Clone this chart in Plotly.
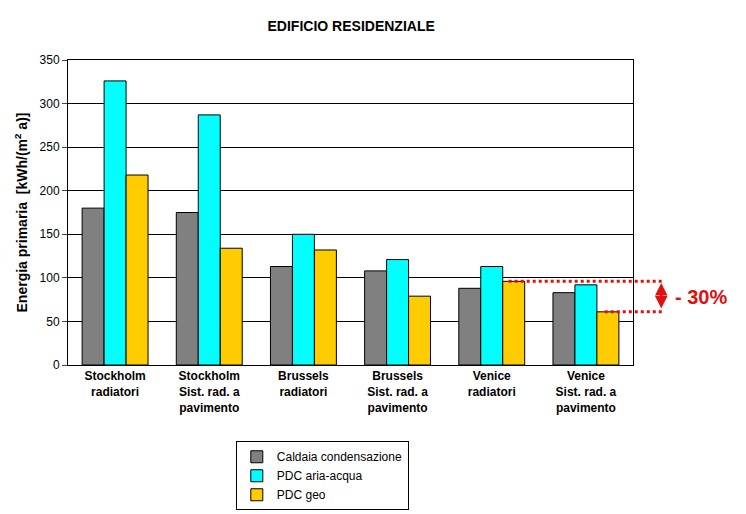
import plotly.graph_objects as go

categories = ["Stockholm<br>radiatori", "Stockholm<br>Sist. rad. a<br>pavimento", "Brussels<br>radiatori",
              "Brussels<br>Sist. rad. a<br>pavimento", "Venice<br>radiatori", "Venice<br>Sist. rad. a<br>pavimento"]
caldaia = [180, 175, 113, 108, 88, 83]
pdc_aria = [326, 287, 150, 121, 113, 92]
pdc_geo = [218, 134, 132, 79, 96, 61]
yticks = [0, 50, 100, 150, 200, 250, 300, 350]

fnt = "Liberation Sans, Arial, sans-serif"
fig = go.Figure()
for name, vals, col in [("Caldaia condensazione", caldaia, "#808080"),
                        ("PDC aria-acqua", pdc_aria, "#00FFFF"),
                        ("PDC geo", pdc_geo, "#FFCC00")]:
    fig.add_bar(x=categories, y=vals, name=name, marker=dict(color=col, line=dict(color="black", width=1)))

fig.update_layout(
    width=746, height=514, plot_bgcolor="white", paper_bgcolor="white",
    margin=dict(l=60, r=121, t=52, b=145),
    barmode="group", bargap=0.3, bargroupgap=0,
    font=dict(family=fnt, color="black", size=12),
    title=dict(text="<b>EDIFICIO RESIDENZIALE</b>", x=0.46, xanchor="center", y=0.975, yanchor="top",
               font=dict(size=14)),
    legend=dict(x=0.297, y=-0.25, xanchor="left", yanchor="top", bordercolor="black", borderwidth=1,
                font=dict(size=12), tracegroupgap=0),
    showlegend=True,
)
fig.update_xaxes(showline=True, linecolor="black", mirror=True, tickfont=dict(size=12, family=fnt),
                 ticks="outside", ticklen=0, tickprefix="<b>", ticksuffix="</b>")
fig.update_yaxes(range=[0, 350], tickvals=yticks, showgrid=True, gridcolor="black", gridwidth=1,
                 showline=True, linecolor="black", mirror=True, ticks="outside", ticklen=5,
                 tickprefix="<b>", ticksuffix="</b>",
                 tickfont=dict(size=12), title=dict(text="<b>Energia primaria  [kWh/(m<sup>2</sup> a)]</b>",
                 font=dict(size=14), standoff=8))

red = "#E01010"
fig.add_shape(type="line", xref="paper", yref="y", x0=0.78, x1=1.053, y0=pdc_geo[4], y1=pdc_geo[4],
              line=dict(color=red, width=3, dash="dot"))
fig.add_shape(type="line", xref="paper", yref="y", x0=0.95, x1=1.053, y0=pdc_geo[5], y1=pdc_geo[5],
              line=dict(color=red, width=3, dash="dot"))
fig.add_annotation(xref="x domain", yref="y", x=1.05, y=pdc_geo[4] - 2, ax=1.05, ay=pdc_geo[5] + 2,
                   axref="x domain", ayref="y", showarrow=True, arrowhead=2, arrowside="end+start",
                   arrowcolor=red, arrowwidth=2.5, text="")
fig.add_annotation(xref="paper", yref="y", x=1.07, y=(pdc_geo[4] + pdc_geo[5]) / 2, xanchor="left",
                   text="<b>- 30%</b>", showarrow=False, font=dict(size=20, color=red))
fig.write_html("out.html")
